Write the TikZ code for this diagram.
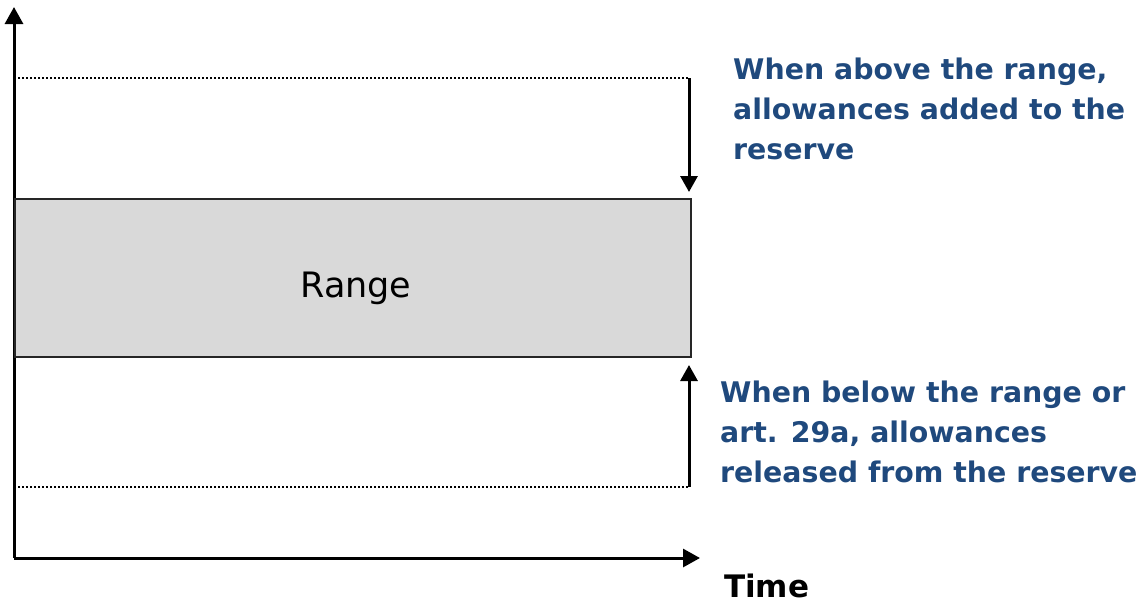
\documentclass[tikz,border=0pt]{standalone}
\usepackage{fontspec}
\setmainfont{DejaVu Sans}
\usetikzlibrary{arrows.meta}
\definecolor{noteblue}{RGB}{31,73,125}
\definecolor{rangefill}{RGB}{217,217,217}
\tikzset{
  axis/.style={line width=3pt, -{Triangle[width=18pt,length=17pt]}},
  shift arrow/.style={line width=3pt, -{Triangle[width=17pt,length=16pt]}},
  bound/.style={line width=2pt, dash pattern=on 2pt off 2pt},
  rangebox/.style={draw=black!85, line width=2.4pt, fill=rangefill, inner sep=0pt},
  note/.style={text=noteblue, font=\bfseries\fontsize{28.4}{40}\selectfont, align=left, inner sep=0pt, anchor=north west},
}
\begin{document}
\begin{tikzpicture}[x=1pt,y=-1pt]
  \useasboundingbox (0,0) rectangle (1141,603);
  % axes
  \coordinate (origin) at (14,558);
  \coordinate (ytop) at (14,7);
  \coordinate (xend) at (700,558);
  \draw[axis] (origin) -- (ytop);
  \draw[axis] (origin) -- (xend);
  % the range band
  \node[rangebox, minimum width=676pt, minimum height=158pt, anchor=north west] (range) at (14,198) {};
  \node[font=\fontsize{35}{42}\selectfont] (rangelabel) at (356,288) {Range};
  % upper and lower bounds
  \coordinate (upL) at (14,78);
  \coordinate (upR) at (689,78);
  \coordinate (loL) at (14,487);
  \coordinate (loR) at (689,487);
  \coordinate (downtip) at (689,192);
  \coordinate (uptip) at (689,365);
  \draw[bound] (upL) -- (upR);
  \draw[bound] (loL) -- (loR);
  \draw[shift arrow] (upR) -- (downtip);
  \draw[shift arrow] (loR) -- (uptip);
  % explanations
  \node[note] (abovenote) at (733,58) {When above the range,\\allowances added to the\\reserve};
  \node[note] (belownote) at (720,381) {When below the range or\\art. 29a, allowances\\released from the reserve};
  \node[font=\bfseries\fontsize{31}{37}\selectfont, anchor=base west, inner sep=0pt] (timelabel) at (724,597) {Time};
\end{tikzpicture}
\end{document}
